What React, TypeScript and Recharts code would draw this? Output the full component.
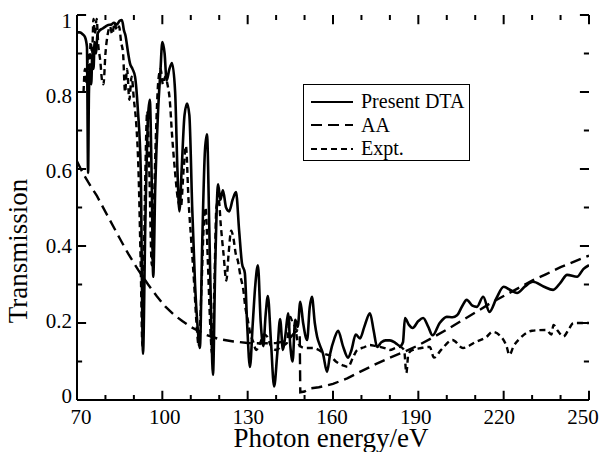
import { LineChart, Line, XAxis, YAxis, Legend, ReferenceLine } from "recharts"

// photon energy (eV) vs transmission
const dtaPoints: [number, number][] = [
  [70, 0.955], [71, 0.955], [72, 0.95], [72.8, 0.943], [73.5, 0.917], [73.9, 0.59], [74.2, 0.8], [74.6, 0.86],
  [75, 0.82], [75.4, 0.9], [75.8, 0.86], [76.2, 0.93], [76.7, 0.9], [77.2, 0.95], [78, 0.96], [79, 0.965],
  [80, 0.97], [81, 0.974], [82, 0.975], [83, 0.98], [84, 0.975], [85, 0.985], [85.8, 0.987], [86.5, 0.96],
  [87, 0.948], [88, 0.9], [88.6, 0.875], [89.5, 0.86], [90.4, 0.84], [91.4, 0.753], [92.4, 0.6], [93.2, 0.12],
  [94, 0.45], [95, 0.74], [95.6, 0.78], [96.2, 0.6], [96.8, 0.32], [97.5, 0.55], [98.5, 0.75], [99.3, 0.85],
  [100, 0.93], [100.8, 0.9], [101.5, 0.83], [102.5, 0.86], [103.4, 0.875], [104.5, 0.8], [105.3, 0.6], [106, 0.49],
  [106.8, 0.6], [107.8, 0.74], [108.7, 0.77], [109.5, 0.74], [110.5, 0.5], [111.5, 0.3], [112.3, 0.2], [113.2, 0.135],
  [114, 0.4], [115, 0.65], [115.7, 0.69], [116.5, 0.45], [117.2, 0.2], [117.8, 0.065], [118.6, 0.35], [119.6, 0.56],
  [120.4, 0.52], [121.3, 0.545], [122.4, 0.5], [123.5, 0.49], [124.7, 0.52], [125.9, 0.54], [127, 0.44], [128, 0.355],
  [129, 0.33], [129.8, 0.2], [130.8, 0.086], [131.8, 0.2], [132.7, 0.3], [133.6, 0.35], [134.6, 0.2], [135.5, 0.14],
  [136.3, 0.22], [137.1, 0.27], [138.2, 0.15], [139.3, 0.035], [140.4, 0.12], [141.4, 0.21], [142.4, 0.13], [143.3, 0.17],
  [144.2, 0.225], [145, 0.14], [145.8, 0.1], [146.7, 0.208], [147.6, 0.19], [148.5, 0.255], [149.5, 0.2], [150.9, 0.156],
  [151.8, 0.24], [152.6, 0.268], [153.6, 0.2], [154.4, 0.165], [155.5, 0.14], [156.5, 0.12], [157.9, 0.073], [159, 0.12],
  [160.5, 0.16], [161.8, 0.18], [163.5, 0.14], [165.3, 0.11], [166.5, 0.13], [168, 0.17], [169.5, 0.16], [171, 0.19],
  [173, 0.225], [174.3, 0.18], [175.5, 0.138], [177, 0.15], [178.5, 0.155], [180, 0.155], [182, 0.148], [183.6, 0.14],
  [184.6, 0.15], [185.3, 0.213], [186.7, 0.195], [188, 0.187], [190, 0.205], [191.7, 0.213], [193.5, 0.19], [195, 0.168],
  [197.5, 0.2], [200, 0.216], [202, 0.215], [203.6, 0.22], [205.5, 0.245], [207, 0.26], [209, 0.245], [210.6, 0.242],
  [212.8, 0.268], [215, 0.229], [217.5, 0.265], [220, 0.294], [222.5, 0.285], [224.7, 0.278], [227.5, 0.295], [230.3, 0.307],
  [234, 0.295], [237.4, 0.286], [240, 0.305], [242.3, 0.325], [245.8, 0.32], [248, 0.34], [250, 0.35],
]

const aaPoints: [number, number][] = [
  [70, 0.62], [72, 0.59], [74, 0.565], [77, 0.53], [81, 0.475], [85, 0.42], [88, 0.38], [91.5, 0.338],
  [95, 0.3], [98, 0.27], [101, 0.243], [104, 0.222], [107, 0.205], [110, 0.19], [115, 0.17], [120, 0.158],
  [125, 0.152], [130, 0.148], [135, 0.147], [140, 0.148], [143, 0.152], [145, 0.162], [146.5, 0.175], [147.5, 0.18],
  [148.3, 0.17], [148.5, 0.02], [150, 0.022], [152, 0.03], [155, 0.033], [158, 0.038], [160, 0.042], [165, 0.056],
  [170, 0.075], [175, 0.093], [180, 0.11], [185, 0.125], [190, 0.142], [195, 0.162], [200, 0.183], [205, 0.205],
  [210, 0.227], [215, 0.25], [220, 0.27], [225, 0.29], [230, 0.31], [235, 0.327], [240, 0.345], [245, 0.36], [250, 0.375],
]

const exptPoints: [number, number][] = [
  [72.3, 0.8], [72.8, 0.86], [73.3, 0.82], [73.8, 0.9], [74.3, 0.84], [74.8, 0.93], [75.3, 0.9], [75.8, 0.99],
  [76.3, 0.95], [76.9, 0.99], [77.5, 0.92], [78.2, 0.88], [78.8, 0.83], [79.3, 0.82], [80, 0.9], [80.8, 0.95],
  [81.6, 0.97], [82.4, 0.95], [83.2, 0.98], [84, 0.96], [84.8, 0.97], [85.5, 0.93], [86.2, 0.9], [86.9, 0.8],
  [87.6, 0.86], [88.4, 0.78], [89.2, 0.84], [90, 0.78], [90.8, 0.72], [91.6, 0.6], [92.4, 0.35], [93, 0.14],
  [93.8, 0.5], [94.7, 0.75], [95.4, 0.6], [96.3, 0.35], [97, 0.5], [97.8, 0.7], [98.6, 0.83], [99.4, 0.86],
  [100.2, 0.82], [101, 0.84], [101.8, 0.82], [102.6, 0.78], [103.4, 0.69], [104.5, 0.59], [105.5, 0.52], [106.5, 0.5],
  [107.5, 0.6], [108.3, 0.66], [109.2, 0.52], [110.2, 0.41], [111.2, 0.3], [112, 0.2], [112.8, 0.14], [113.8, 0.3],
  [114.6, 0.46], [115.2, 0.5], [116, 0.36], [116.8, 0.2], [117.5, 0.12], [118.3, 0.3], [119, 0.5], [119.8, 0.52],
  [120.6, 0.45], [121.5, 0.38], [122.5, 0.31], [123.3, 0.38], [124.2, 0.44], [125, 0.42], [125.8, 0.38], [126.6, 0.36],
  [127.5, 0.32], [128.4, 0.29], [129.2, 0.24], [130, 0.21], [131, 0.17], [132, 0.15], [133, 0.13], [134.5, 0.15],
  [135.7, 0.17], [136.8, 0.165], [138.2, 0.14], [140, 0.13], [142, 0.14], [143.8, 0.148], [145, 0.216], [145.8, 0.2],
  [146.7, 0.19], [147.6, 0.15], [148.5, 0.14], [150, 0.135], [153, 0.135], [155, 0.13], [157, 0.12], [159, 0.115],
  [161, 0.1], [163.5, 0.09], [165.3, 0.086], [167, 0.11], [168.5, 0.13], [171, 0.137], [173, 0.143], [175, 0.14],
  [176.5, 0.138], [178.5, 0.134], [180, 0.13], [182, 0.135], [183.5, 0.138], [185, 0.13], [185.8, 0.07], [186.5, 0.12],
  [188, 0.13], [191, 0.135], [194, 0.138], [195.5, 0.11], [198, 0.13], [202, 0.156], [205.7, 0.135], [210, 0.15],
  [214, 0.164], [216, 0.177], [219, 0.165], [221, 0.14], [222, 0.117], [223.5, 0.14], [225.7, 0.16], [230, 0.18],
  [235, 0.182], [236.8, 0.17], [237.5, 0.195], [239, 0.18], [241, 0.165], [243, 0.185], [244.5, 0.2], [250, 0.2],
]

const xTicks = [70, 80, 90, 100, 110, 120, 130, 140, 150, 160, 170, 180, 190, 200, 210, 220, 230, 240, 250]
const yTicks = [0, 0.1, 0.2, 0.3, 0.4, 0.5, 0.6, 0.7, 0.8, 0.9, 1]
const seriesNames = ["Present DTA", "AA", "Expt."]

const FONT = "'Liberation Serif', 'Times New Roman', serif"
const dashes: Record<string, string | undefined> = { "Present DTA": undefined, AA: "11 6", "Expt.": "6 4" }

const toRows = (pts: [number, number][]) => pts.map(([x, y]) => ({ x, y }))

const isMajorX = (v: number) => (v - 70) % 30 === 0
const isMajorY = (v: number) => Math.round(v * 10) % 2 === 0

// inward tick marks, in data units (x: eV per px ≈ 0.352, y: per px ≈ 0.0026)
const xLen = (v: number) => (isMajorX(v) ? 0.024 : 0.013)
const yLen = (v: number) => (isMajorY(v) ? 3.2 : 1.8)

function BottomLabel(props: any) {
  const x = Number(props.x)
  const y = Number(props.y)
  const v = props.payload.value
  if (!isMajorX(v)) return <g />
  const lx = x + 4 - ((v - 70) / 180) * 10
  return (
    <text x={lx} y={y + 24} textAnchor="middle" fontSize={21} fontFamily={FONT} fill="#000">
      {v}
    </text>
  )
}

function LeftLabel(props: any) {
  const x = Number(props.x)
  const y = Number(props.y)
  const v = props.payload.value
  if (!isMajorY(v)) return <g />
  const label = Math.round(v * 10) / 10
  return (
    <text x={x - 5} y={y + 13 - (1 - v) * 10} textAnchor="end" fontSize={21} fontFamily={FONT} fill="#000">
      {String(label)}
    </text>
  )
}

function LegendBox() {
  return (
    <div
      style={{
        border: "1.5px solid #000",
        background: "#fff",
        width: 167,
        height: 77,
        boxSizing: "border-box",
        padding: "5px 0 0 7px",
        fontFamily: FONT,
        fontSize: 20,
        color: "#000",
        whiteSpace: "nowrap",
      }}
    >
      {seriesNames.map((name) => (
        <div key={name} style={{ display: "flex", alignItems: "center", height: 23.5 }}>
          <svg width={42} height={10} style={{ marginRight: 8, flexShrink: 0 }}>
            <line x1={0} y1={5} x2={42} y2={5} stroke="#000" strokeWidth={2} strokeDasharray={dashes[name]} />
          </svg>
          <span style={{ lineHeight: "23.5px" }}>{name}</span>
        </div>
      ))}
    </div>
  )
}

export default function App() {
  return (
    <div style={{ position: "absolute", left: 0, top: 0, width: 600, height: 452, background: "#fff" }}>
      <LineChart width={600} height={452} margin={{ top: 15, right: 11, left: 0, bottom: 0 }}>
        <XAxis
          dataKey="x"
          type="number"
          domain={[70, 250]}
          ticks={xTicks}
          allowDataOverflow
          height={52}
          tickSize={0}
          tickMargin={0}
          tickLine={false}
          tick={BottomLabel}
          axisLine={{ stroke: "#000", strokeWidth: 2 }}
          interval={0}
        />
        <XAxis
          xAxisId="top"
          orientation="top"
          type="number"
          domain={[70, 250]}
          ticks={xTicks}
          height={0}
          tick={false}
          tickLine={false}
          axisLine={{ stroke: "#000", strokeWidth: 2 }}
        />
        <YAxis
          type="number"
          domain={[0, 1]}
          ticks={yTicks}
          allowDataOverflow
          width={77}
          tickSize={0}
          tickMargin={0}
          tickLine={false}
          tick={LeftLabel}
          axisLine={{ stroke: "#000", strokeWidth: 2 }}
          interval={0}
        />
        <YAxis
          yAxisId="right"
          orientation="right"
          type="number"
          domain={[0, 1]}
          ticks={yTicks}
          width={0}
          tick={false}
          tickLine={false}
          axisLine={{ stroke: "#000", strokeWidth: 2 }}
        />
        {xTicks.map((v) => (
          <ReferenceLine
            key={`b${v}`}
            segment={[{ x: v, y: 0 }, { x: v, y: xLen(v) }]}
            stroke="#000"
            strokeWidth={2}
            ifOverflow="visible"
          />
        ))}
        {xTicks.map((v) => (
          <ReferenceLine
            key={`t${v}`}
            segment={[{ x: v, y: 1 }, { x: v, y: 1 - xLen(v) }]}
            stroke="#000"
            strokeWidth={2}
            ifOverflow="visible"
          />
        ))}
        {yTicks.map((v) => (
          <ReferenceLine
            key={`l${v}`}
            segment={[{ x: 70, y: v }, { x: 70 + yLen(v), y: v }]}
            stroke="#000"
            strokeWidth={2}
            ifOverflow="visible"
          />
        ))}
        {yTicks.map((v) => (
          <ReferenceLine
            key={`r${v}`}
            segment={[{ x: 250, y: v }, { x: 250 - yLen(v), y: v }]}
            stroke="#000"
            strokeWidth={2}
            ifOverflow="visible"
          />
        ))}
        <Legend
          layout="vertical"
          align="center"
          verticalAlign="middle"
          wrapperStyle={{ left: 303, top: 84, width: 167, height: 77 }}
          content={<LegendBox />}
        />
        <Line
          data={toRows(dtaPoints)}
          dataKey="y"
          name="Present DTA"
          type="monotone"
          stroke="#000"
          strokeWidth={2.6}
          dot={false}
          isAnimationActive={false}
        />
        <Line
          data={toRows(aaPoints)}
          dataKey="y"
          name="AA"
          type="linear"
          stroke="#000"
          strokeWidth={2.4}
          strokeDasharray={dashes.AA}
          dot={false}
          isAnimationActive={false}
        />
        <Line
          data={toRows(exptPoints)}
          dataKey="y"
          name="Expt."
          type="monotone"
          stroke="#000"
          strokeWidth={2.4}
          strokeDasharray={dashes["Expt."]}
          dot={false}
          isAnimationActive={false}
        />
        <text x={331} y={447} textAnchor="middle" fontSize={27} fontFamily={FONT} fill="#000">
          Photon energy/eV
        </text>
        <text
          x={27}
          y={251}
          textAnchor="middle"
          fontSize={27}
          fontFamily={FONT}
          fill="#000"
          transform="rotate(-90 27 251)"
        >
          Transmission
        </text>
      </LineChart>
    </div>
  )
}
